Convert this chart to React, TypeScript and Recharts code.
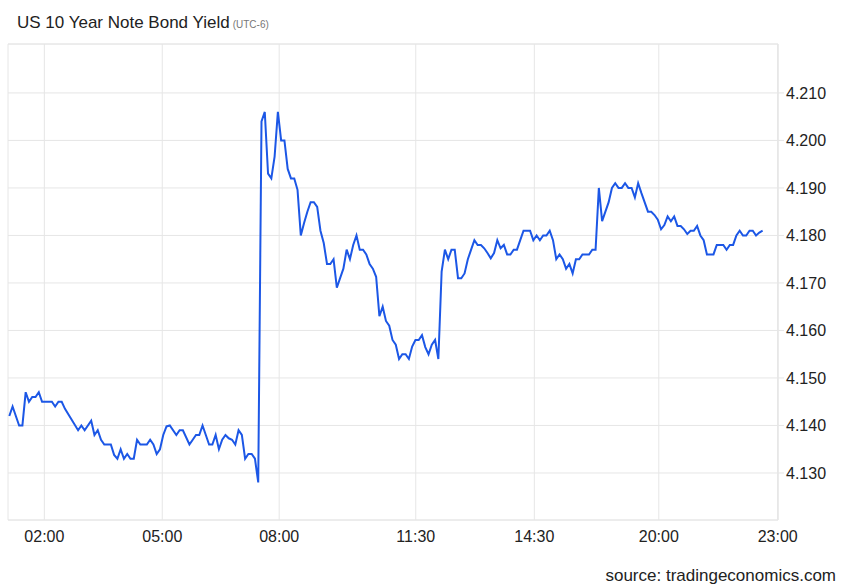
import React from "react";
import { LineChart, Line, XAxis, YAxis, CartesianGrid, ReferenceLine } from "recharts";

// 5-minute slots along the (gap-compressed) session axis
const SLOTS = [
  0, 1, 3, 4, 5, 6, 7, 8, 9, 10, 13, 14, 15, 16, 17, 21, 22, 23, 25, 26, 27, 28, 29, 31, 32, 33, 34, 35, 36, 37, 38, 39,
  40, 42, 43, 44, 45, 46, 47, 48, 49, 51, 52, 53, 55, 56, 57, 58, 59, 60, 61, 62, 63, 64, 65, 66, 67, 68, 69, 70, 71, 72,
  73, 74, 75, 76, 77, 78, 79, 80, 81, 82, 83, 84, 85, 86, 87, 88, 89, 90, 91, 92, 93, 94, 95, 96, 97, 98, 99, 100, 101,
  102, 103, 104, 105, 106, 107, 108, 109, 110, 111, 112, 113, 114, 115, 116, 117, 118, 119, 120, 121, 122, 123, 124, 125,
  126, 127, 128, 129, 130, 131, 132, 133, 134, 135, 136, 137, 138, 139, 140, 141, 142, 143, 144, 145, 146, 147, 148, 149,
  150, 151, 152, 153, 154, 155, 156, 157, 158, 159, 160, 161, 162, 163, 164, 165, 166, 167, 168, 169, 170, 171, 172, 173,
  174, 175, 176, 177, 178, 179, 180, 181, 182, 183, 184, 185, 186, 187, 188, 189, 190, 191, 192, 193, 195, 196, 197, 198,
  199, 200, 201, 202, 203, 204, 205, 206, 207, 208, 209, 210, 211, 212, 213, 214, 215, 216, 217, 218, 219, 220, 221, 222,
  223, 224, 225, 226, 227, 228, 229, 230,
];

const YIELDS = [
  4.142, 4.144, 4.14, 4.14, 4.147, 4.145, 4.146, 4.146, 4.147, 4.145, 4.145, 4.144, 4.145, 4.145, 4.1435, 4.139, 4.14,
  4.139, 4.141, 4.138, 4.139, 4.137, 4.136, 4.136, 4.1338, 4.133, 4.135, 4.133, 4.134, 4.133, 4.133, 4.137,
  4.136, 4.136, 4.137, 4.136, 4.134, 4.135, 4.138, 4.1398, 4.14, 4.138, 4.139, 4.139, 4.136, 4.137, 4.138, 4.138, 4.14,
  4.138, 4.136, 4.136, 4.138, 4.135, 4.137, 4.138, 4.1373, 4.137, 4.136, 4.139, 4.138, 4.133,
  4.134, 4.134, 4.133, 4.128, 4.204, 4.206, 4.193, 4.192, 4.1966, 4.206, 4.2, 4.2, 4.194, 4.192, 4.192, 4.1896, 4.18,
  4.1826, 4.185, 4.187, 4.187, 4.186, 4.181, 4.1784, 4.174, 4.174, 4.175, 4.169, 4.171,
  4.173, 4.177, 4.175, 4.178, 4.18, 4.177, 4.177, 4.176, 4.174, 4.173, 4.1713, 4.163, 4.165, 4.162, 4.161, 4.158, 4.157,
  4.154, 4.155, 4.155, 4.154, 4.1566, 4.158, 4.158,
  4.159, 4.1565, 4.155, 4.157, 4.158, 4.154, 4.1724, 4.177, 4.175, 4.177, 4.177, 4.171, 4.171, 4.172, 4.175, 4.177, 4.179,
  4.178, 4.178, 4.1773, 4.1763, 4.1752, 4.1763, 4.179,
  4.1773, 4.178, 4.176, 4.176, 4.177, 4.177, 4.179, 4.181, 4.181, 4.181, 4.179, 4.18, 4.179, 4.18, 4.18, 4.181, 4.179,
  4.175, 4.176, 4.175, 4.173, 4.174, 4.172, 4.175,
  4.175, 4.176, 4.176, 4.176, 4.177, 4.177, 4.19, 4.183, 4.185, 4.187, 4.19, 4.191, 4.19, 4.19, 4.191, 4.19, 4.19, 4.188,
  4.191, 4.1889, 4.185, 4.185, 4.1843, 4.1833,
  4.1813, 4.1822, 4.184, 4.183, 4.184, 4.182, 4.182, 4.1813, 4.1803, 4.181, 4.181, 4.182, 4.18, 4.179, 4.176, 4.176, 4.176,
  4.178, 4.178, 4.178, 4.177, 4.178, 4.178, 4.18,
  4.181, 4.18, 4.18, 4.181, 4.181, 4.18, 4.1806, 4.181,
];

const X_TICKS = [10.7, 46.7, 82.4, 124.1, 160.3, 198.3, 234.6];
const X_LABELS = ["02:00", "05:00", "08:00", "11:30", "14:30", "20:00", "23:00"];
const Y_TICKS = [4.13, 4.14, 4.15, 4.16, 4.17, 4.18, 4.19, 4.2, 4.21];
const X_DOMAIN: [number, number] = [-0.4, 234.7];
const Y_DOMAIN: [number, number] = [4.1201, 4.2203];

const TITLE = "US 10 Year Note Bond Yield";
const SUBTITLE = "(UTC-6)";
const SOURCE = "source: tradingeconomics.com";

const data = SLOTS.map((s, i) => ({ slot: s, value: YIELDS[i] }));

const FONT = "'Liberation Sans', Arial, Helvetica, sans-serif";
const GRID = "#e6e6e6";
const LINE = "#1c57e6";

export default function App() {
  return (
    <div style={{ position: "absolute", left: 0, top: 0, width: 848, height: 588, background: "#fff", fontFamily: FONT }}>
      <div style={{ position: "absolute", left: 17, top: 14, fontSize: 17, lineHeight: 1, color: "#222", whiteSpace: "nowrap" }}>
        {TITLE}
        <span style={{ fontSize: 10, color: "#777", marginLeft: 3 }}>{SUBTITLE}</span>
      </div>
      <LineChart
        width={848}
        height={588}
        data={data}
        margin={{ top: 44, right: 0, left: 8, bottom: 38 }}
      >
        <CartesianGrid stroke={GRID} strokeWidth={1} />
        <ReferenceLine y={Y_DOMAIN[1]} stroke={GRID} strokeWidth={1} />
        <XAxis
          dataKey="slot"
          type="number"
          domain={X_DOMAIN}
          ticks={X_TICKS}
          interval={0}
          allowDataOverflow
          height={30}
          tickLine={false}
          tickSize={6}
          tickMargin={5}
          axisLine={{ stroke: GRID }}
          tick={{ fill: "#222", fontSize: 16, fontFamily: FONT }}
          tickFormatter={(v: number) => X_LABELS[X_TICKS.indexOf(v)] ?? ""}
        />
        <YAxis
          orientation="right"
          type="number"
          domain={Y_DOMAIN}
          ticks={Y_TICKS}
          interval={0}
          allowDataOverflow
          width={70}
          tickSize={6}
          tickMargin={2}
          tickLine={{ stroke: GRID }}
          axisLine={{ stroke: GRID }}
          tick={{ fill: "#222", fontSize: 16, fontFamily: FONT, textAnchor: "start" }}
          tickFormatter={(v: number) => v.toFixed(3)}
        />
        <Line
          type="linear"
          dataKey="value"
          stroke={LINE}
          strokeWidth={2}
          dot={false}
          activeDot={false}
          isAnimationActive={false}
        />
      </LineChart>
      <div style={{ position: "absolute", right: 12, top: 567, fontSize: 17, lineHeight: 1, color: "#222", whiteSpace: "nowrap" }}>
        {SOURCE}
      </div>
    </div>
  );
}
